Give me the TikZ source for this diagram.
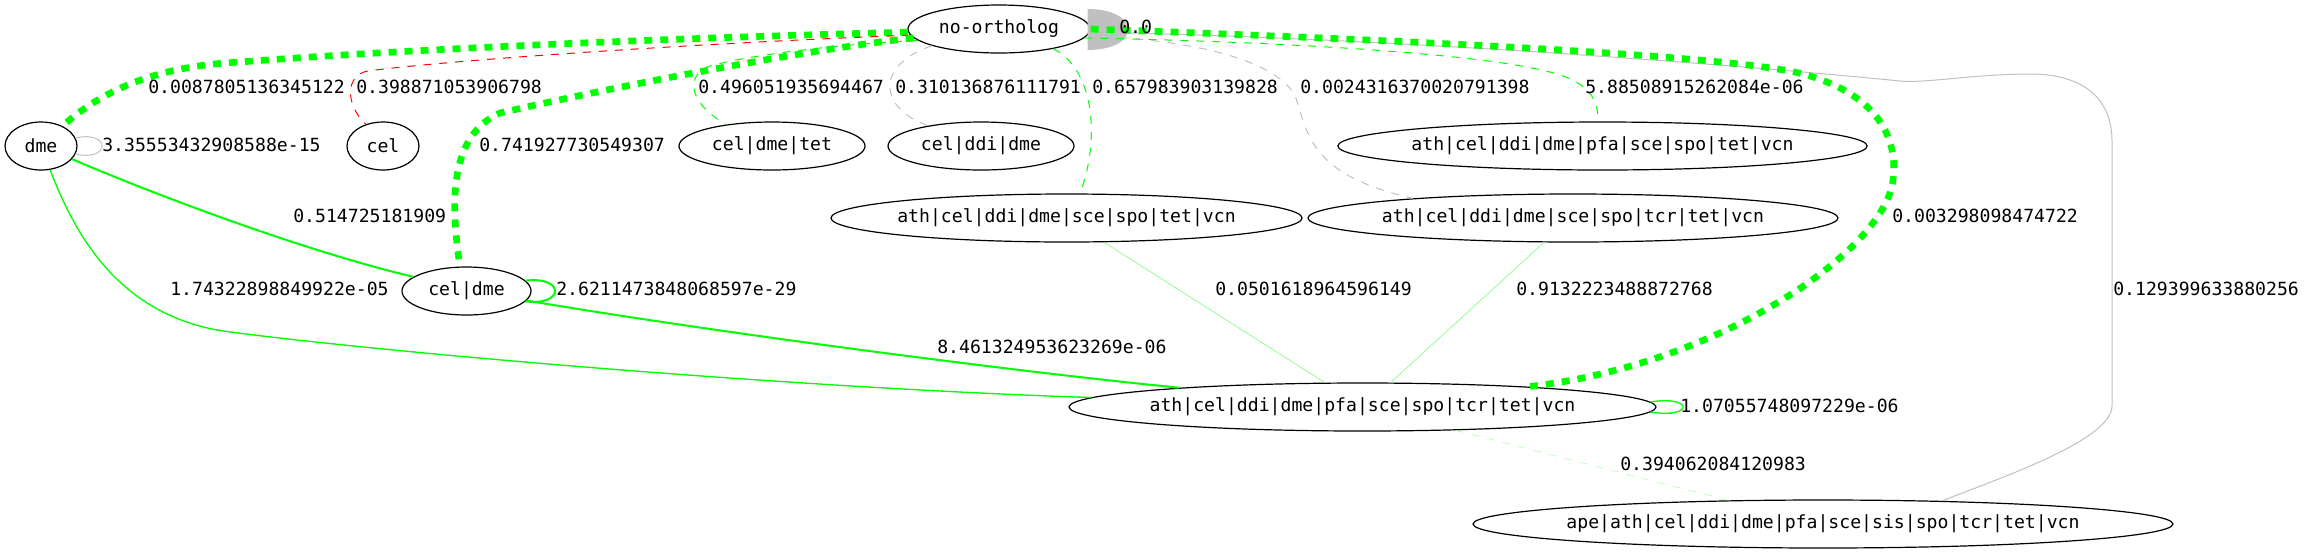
\documentclass[tikz,border=0pt]{standalone}
\usepackage{fontspec}
\newfontfamily\gvfont{DejaVu Sans Mono}
\usetikzlibrary{shapes.geometric,calc}
\definecolor{gvgreen}{RGB}{0,255,0}
\definecolor{gvred}{RGB}{255,0,0}
\definecolor{gvgray}{RGB}{192,192,192}
\definecolor{gvpale}{RGB}{130,255,130}
\definecolor{gvpaler}{RGB}{180,255,180}
\begin{document}
\begin{tikzpicture}[x=0.75pt,y=-0.75pt,
  gvnode/.style={draw=black, line width=0.9pt, shape=ellipse, minimum height=36pt,
    inner xsep=-300pt, inner ysep=0pt, font=\gvfont\fontsize{13.6pt}{16pt}\selectfont},
  elabel/.style={anchor=west, inner sep=0pt, font=\gvfont\fontsize{13.6pt}{16pt}\selectfont},
  thickdash/.style={draw=gvgreen, line width=5pt, dash pattern=on 6pt off 6pt},
  thindash/.style={line width=0.75pt, dash pattern=on 6pt off 6pt},
  thinline/.style={line width=0.75pt},
  hairline/.style={line width=0.5pt},
  midline/.style={draw=gvgreen, line width=1.5pt}]
\useasboundingbox (0,0) rectangle (2305,551);
% nodes
\node[gvnode, minimum width=136.5pt] (no) at (999,29) {no-ortholog};
\node[gvnode, minimum width=54pt] (dme) at (41,146) {dme};
\node[gvnode, minimum width=54pt] (cel) at (383,146) {cel};
\node[gvnode, minimum width=139.5pt] (cdt) at (772,146) {cel|dme|tet};
\node[gvnode, minimum width=139.5pt] (cdd) at (981,146) {cel|ddi|dme};
\node[gvnode, minimum width=397pt] (n5) at (1602.5,146) {ath|cel|ddi|dme|pfa|sce|spo|tet|vcn};
\node[gvnode, minimum width=353.25pt] (n6) at (1066.5,218) {ath|cel|ddi|dme|sce|spo|tet|vcn};
\node[gvnode, minimum width=397.5pt] (n7) at (1573,218) {ath|cel|ddi|dme|sce|spo|tcr|tet|vcn};
\node[gvnode, minimum width=96.75pt] (cd) at (466.5,291) {cel|dme};
\node[gvnode, minimum width=440.25pt] (big) at (1362.5,407) {ath|cel|ddi|dme|pfa|sce|spo|tcr|tet|vcn};
\node[gvnode, minimum width=525pt] (ape) at (1823,524) {ape|ath|cel|ddi|dme|pfa|sce|sis|spo|tcr|tet|vcn};
% self-loop of no-ortholog (very thick, gray)
\fill[gvgray] ($(no.east)+(-3,-20)$) .. controls ($(no.east)+(22,-20)$) and ($(no.east)+(37,-11)$) .. ($(no.east)+(37.5,1)$) .. controls ($(no.east)+(37,13)$) and ($(no.east)+(20,21)$) .. ($(no.east)+(-3,21)$) -- cycle;
% edges from no-ortholog
\draw[thinline, draw=gvgray] (no.-2) .. controls (1400,38) and (1750,66) .. (1900,81) .. controls (1925,83.5) and (1975,74) .. (2030,74) .. controls (2085,74) and (2112,100) .. (2112,141) -- (2112,406) .. controls (2112,440) and (2000,478) .. (ape.11.8);
\draw[thindash, draw=gvgray] (no.-4) .. controls (1180,40) and (1270,55) .. (1295,95) .. controls (1308,135) and (1310,175) .. (n7.173);
\draw[thindash, draw=gvgray] (no.194) .. controls (875,65) and (878,108) .. (cdd.159);
\draw[thindash, draw=gvgreen] (no.-6) .. controls (1300,42) and (1500,55) .. (1560,75) .. controls (1590,85) and (1598,100) .. (n5.100);
\draw[thindash, draw=gvgreen] (no.-20) .. controls (1095,70) and (1100,140) .. (n6.61);
\draw[thindash, draw=gvgreen] (no.188) .. controls (830,45) and (750,55) .. (710,66) .. controls (688,73) and (684,100) .. (cdt.155);
\draw[thickdash] (no.182) .. controls (750,36) and (450,46) .. (240,62) .. controls (160,66) and (105,88) .. (dme.43);
\draw[thindash, draw=gvred] (no.184) .. controls (700,43) and (450,60) .. (368,71) .. controls (345,75) and (345,105) .. (cel.128);
\draw[thickdash] (no.186) .. controls (800,50) and (600,90) .. (500,113) .. controls (450,135) and (450,200) .. (cd.105);
\draw[thickdash] (no.east) .. controls (1400,40) and (1730,55) .. (1803,74) .. controls (1880,95) and (1898,140) .. (1893,180) .. controls (1885,250) and (1720,365) .. (big.7.5);
% other edges
\draw[thinline, draw=gvgray] (dme.13) .. controls (111,130) and (111,162) .. (dme.-13);
\draw[midline] (dme.-23) .. controls (180,205) and (320,255) .. (cd.165);
\draw[draw=gvgreen, line width=1pt] (dme.-69) .. controls (75,235) and (120,318) .. (230,332) .. controls (400,354) and (800,388) .. (big.178);
\draw[midline] (cd.10) .. controls (565,276) and (565,306) .. (cd.-10);
\draw[midline] (cd.-9) .. controls (700,330) and (1000,370) .. (big.174);
\draw[hairline, draw=gvpale] (n6.-33) -- (big.147.4);
\draw[hairline, draw=gvpale] (n7.220.6) -- (big.41.1);
\draw[draw=gvgreen, line width=1pt] (big.1.7) .. controls (1694,395) and (1694,419) .. (big.-1.7);
\draw[hairline, draw=gvpaler, dash pattern=on 6pt off 6pt] (big.-14.3) -- (ape.166);
% edge labels
\node[elabel] (l0) at (1119,27) {0.0};
\node[elabel] (l1) at (148,86.5) {0.0087805136345122};
\node[elabel] (l2) at (356,86.5) {0.398871053906798};
\node[elabel] (l3) at (479,145) {0.741927730549307};
\node[elabel] (l4) at (698,86.5) {0.496051935694467};
\node[elabel] (l5) at (895,86.5) {0.310136876111791};
\node[elabel] (l6) at (1092,86.5) {0.657983903139828};
\node[elabel] (l7) at (1300,86.5) {0.0024316370020791398};
\node[elabel] (l8) at (1585,86.5) {5.88508915262084e-06};
\node[elabel] (l9) at (1892,216) {0.003298098474722};
\node[elabel] (l10) at (2113,289) {0.129399633880256};
\node[elabel] (l12) at (102,145) {3.35553432908588e-15};
\node[elabel] (l13) at (293,216) {0.514725181909};
\node[elabel] (l14) at (170,289) {1.74322898849922e-05};
\node[elabel] (l15) at (556,289) {2.6211473848068597e-29};
\node[elabel] (l16) at (937,347) {8.461324953623269e-06};
\node[elabel] (l17) at (1215,289) {0.0501618964596149};
\node[elabel] (l18) at (1516,289) {0.9132223488872768};
\node[elabel] (l19) at (1680,406) {1.07055748097229e-06};
\node[elabel] (l20) at (1620,463.5) {0.394062084120983};
\end{tikzpicture}
\end{document}
